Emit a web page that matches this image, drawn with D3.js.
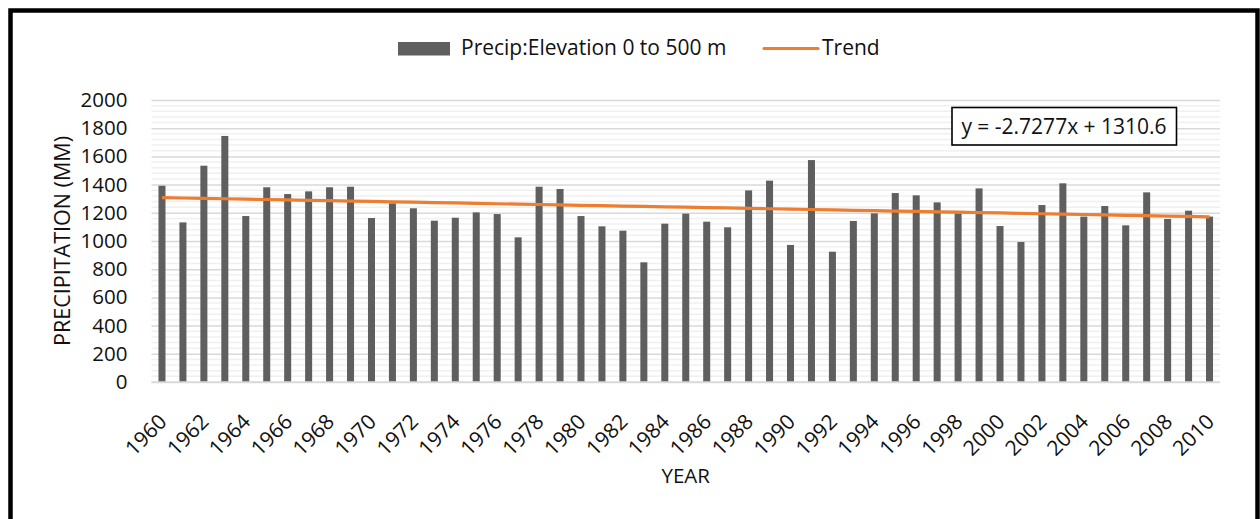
<!DOCTYPE html>
<html>
<head>
<meta charset="utf-8">
<script src="https://cdn.jsdelivr.net/npm/d3@7"></script>
<style>
  html, body { margin: 0; padding: 0; background: #fff; }
  svg { display: block; }
  text { font-family: "Open Sans", "Noto Sans", sans-serif; fill: #111; }
</style>
</head>
<body>
<svg id="chart" width="1260" height="519"></svg>
<script>
// ---- data ----
const years = d3.range(1960, 2011);
const precip = [
  1392, 1132, 1534, 1745, 1177, 1381, 1333, 1352, 1381, 1385,
  1163, 1267, 1232, 1144, 1165, 1203, 1191, 1026, 1385, 1369,
  1177, 1104, 1073, 849, 1123, 1194, 1137, 1097, 1359, 1428,
  972, 1574, 924, 1142, 1196, 1340, 1324, 1274, 1196, 1373,
  1106, 993, 1255, 1409, 1173, 1248, 1111, 1345, 1156, 1215,
  1173
];
const yTicks = [0, 200, 400, 600, 800, 1000, 1200, 1400, 1600, 1800, 2000];
const xTickYears = years.filter(y => (y - 1960) % 2 === 0);
const trendSlope = -2.7277;
const trendIntercept = 1310.6;
const seriesName = "Precip:Elevation 0 to 500 m";
const trendName = "Trend";
const yTitle = "PRECIPITATION (MM)";
const xTitle = "YEAR";
const equationText = "y = -2.7277x + 1310.6";

// ---- layout ----
const svg = d3.select("#chart");
const plot = { left: 151.5, right: 1220, top: 100, bottom: 382 };

const x = d3.scaleBand()
  .domain(years)
  .range([plot.left, plot.right])
  .paddingInner(0.665)
  .paddingOuter(0.3325);

const y = d3.scaleLinear().domain([0, 2000]).range([plot.bottom, plot.top]);

// outer frame
svg.append("rect")
  .attr("x", 10.5).attr("y", 10.5)
  .attr("width", 1247).attr("height", 540)
  .attr("fill", "none").attr("stroke", "#000").attr("stroke-width", 4.5);

// minor gridlines
const minor = d3.range(0, 2001, 40).filter(v => v % 200 !== 0);
svg.append("g").selectAll("line").data(minor).join("line")
  .attr("x1", plot.left).attr("x2", plot.right)
  .attr("y1", d => y(d)).attr("y2", d => y(d))
  .attr("stroke", "#f0f0f0").attr("stroke-width", 1.5);

// major gridlines via axis
const yAxis = svg.append("g")
  .attr("transform", `translate(${plot.left},0)`)
  .call(d3.axisLeft(y).tickValues(yTicks).tickFormat(d3.format("d"))
    .tickSize(-(plot.right - plot.left)).tickPadding(24));
yAxis.select(".domain").remove();
yAxis.selectAll(".tick line").attr("stroke", "#d9d9d9").attr("stroke-width", 1.5);
yAxis.selectAll(".tick text")
  .attr("font-size", 20.5)
  .style("font-family", '"Open Sans", sans-serif')
  .attr("fill", "#111");

// bars
svg.append("g").selectAll("rect").data(years).join("rect")
  .attr("x", d => x(d))
  .attr("width", x.bandwidth())
  .attr("y", (d, i) => y(precip[i]))
  .attr("height", (d, i) => y(0) - y(precip[i]))
  .attr("fill", "#5f5f5f");

// x axis baseline
svg.append("line")
  .attr("x1", plot.left).attr("x2", plot.right)
  .attr("y1", y(0)).attr("y2", y(0))
  .attr("stroke", "#d9d9d9").attr("stroke-width", 1.5);

// x tick labels
const xAxis = svg.append("g")
  .attr("transform", `translate(0,${plot.bottom})`)
  .call(d3.axisBottom(x).tickValues(xTickYears).tickSize(0).tickPadding(0));
xAxis.select(".domain").remove();
xAxis.selectAll(".tick text")
  .attr("font-size", 21)
  .style("font-family", '"Open Sans", sans-serif')
  .attr("fill", "#111")
  .attr("text-anchor", "end")
  .attr("dy", null)
  .attr("y", 0)
  .attr("transform", "translate(6,41) rotate(-45)");

// trend line
const trendData = years.map((yr, i) => ({ yr, v: trendSlope * (i + 1) + trendIntercept }));
svg.append("path")
  .datum(trendData)
  .attr("fill", "none")
  .attr("stroke", "#ED7D31")
  .attr("stroke-width", 3.2)
  .attr("d", d3.line().x(d => x(d.yr) + x.bandwidth() / 2).y(d => y(d.v)));

// equation box
const eq = svg.append("g");
eq.append("rect")
  .attr("x", 952).attr("y", 107.5).attr("width", 224.5).attr("height", 37.5)
  .attr("fill", "#fff").attr("stroke", "#000").attr("stroke-width", 1.6);
eq.append("text")
  .attr("x", 1064).attr("y", 134)
  .attr("text-anchor", "middle")
  .attr("font-size", 21)
  .text(equationText);

// axis titles
svg.append("text")
  .attr("transform", `translate(70,${(plot.top + plot.bottom) / 2}) rotate(-90)`)
  .attr("text-anchor", "middle")
  .attr("font-size", 21.5)
  .attr("textLength", 210)
  .attr("lengthAdjust", "spacingAndGlyphs")
  .text(yTitle);

svg.append("text")
  .attr("x", (plot.left + plot.right) / 2).attr("y", 483)
  .attr("text-anchor", "middle")
  .attr("font-size", 20.5)
  .text(xTitle);

// legend
const lg = svg.append("g");
lg.append("rect").attr("x", 398).attr("y", 42).attr("width", 52).attr("height", 13.5).attr("fill", "#5f5f5f");
lg.append("text").attr("x", 461).attr("y", 55).attr("font-size", 21).text(seriesName);
lg.append("line").attr("x1", 764).attr("x2", 818).attr("y1", 48.5).attr("y2", 48.5)
  .attr("stroke", "#ED7D31").attr("stroke-width", 3.2).attr("stroke-linecap", "round");
lg.append("text").attr("x", 822).attr("y", 55).attr("font-size", 21).text(trendName);
</script>
</body>
</html>
